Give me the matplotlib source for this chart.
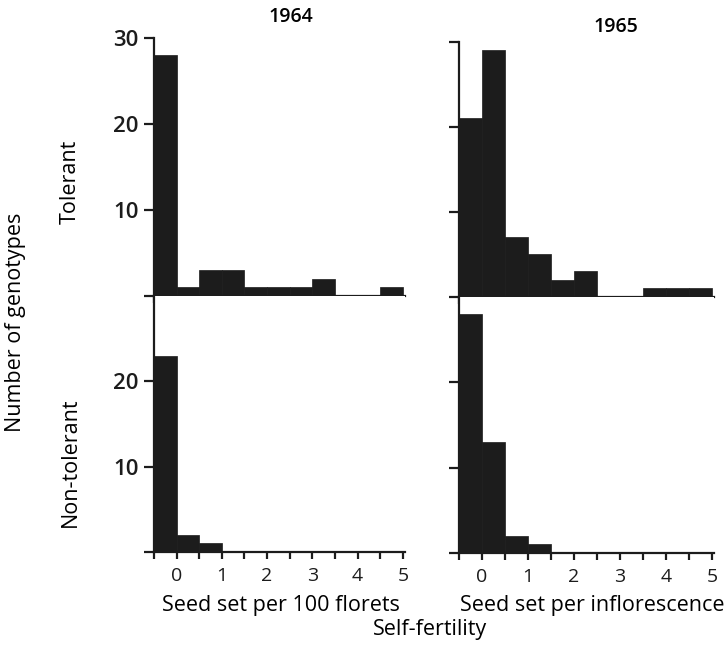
import numpy as np
import matplotlib
matplotlib.use("Agg")
import matplotlib.pyplot as plt

# ── data: counts of genotypes per 0.5-wide bin of self-fertility ──────────────
BIN_EDGES = np.arange(-0.5, 5.01, 0.5)          # -0.5, 0, 0.5, ... 5

tolerant_1964     = [28, 1, 3, 3, 1, 1, 1, 2, 0, 0, 1]
tolerant_1965     = [21, 29, 7, 5, 2, 3, 0, 0, 1, 1, 1]
nontolerant_1964  = [23, 2, 1, 0, 0, 0, 0, 0, 0, 0, 0]
nontolerant_1965  = [28, 13, 2, 1, 0, 0, 0, 0, 0, 0, 0]

YEARS      = ["1964", "1965"]
ROW_LABELS = ["Tolerant", "Non-tolerant"]
X_LABELS   = ["Seed set per 100 florets", "Seed set per inflorescence"]
X_TICKS    = [0, 1, 2, 3, 4, 5]

INK = "#1c1c1c"
plt.rcParams["font.family"] = ["Open Sans", "DejaVu Sans"]

W, H = 727, 648
fig = plt.figure(figsize=(W / 100, H / 100), dpi=100)
fig.patch.set_facecolor("white")


def px(x, y):
    """pixel position (from top-left) -> figure fraction"""
    return x / W, 1 - y / H


# axes rectangles [left, bottom, width, height] in figure fractions
positions = {
    (0, 0): [0.2118, 0.5432, 0.3455, 0.3981],
    (0, 1): [0.6314, 0.5417, 0.3510, 0.3935],
    (1, 0): [0.2118, 0.1481, 0.3455, 0.3951],
    (1, 1): [0.6314, 0.1466, 0.3510, 0.3951],
}
counts = {
    (0, 0): tolerant_1964,
    (0, 1): tolerant_1965,
    (1, 0): nontolerant_1964,
    (1, 1): nontolerant_1965,
}


def style_axis(ax, row, col):
    for side in ("top", "right"):
        ax.spines[side].set_visible(False)
    for side in ("left", "bottom"):
        ax.spines[side].set_linewidth(1.6)
        ax.spines[side].set_color(INK)
    ax.set_xlim(-0.5, 5.05)
    ax.set_ylim(0, 30)
    ax.set_xticks(BIN_EDGES)
    ax.tick_params(axis="x", direction="out", length=5, width=1.6, colors=INK,
                   labelsize=14, pad=6)
    ax.tick_params(axis="y", direction="out", length=7, width=1.6, colors=INK,
                   labelsize=16, pad=4)
    if row == 1:
        ax.set_xticklabels([f"{v:g}" if v in X_TICKS else "" for v in BIN_EDGES])
    else:
        ax.set_xticklabels([])
    if row == 0:
        ax.set_yticks([0, 10, 20, 30])
        labels = ["", "10", "20", "30"]
    else:
        ax.set_yticks([0, 10, 20])
        labels = ["", "10", "20"]
    if col == 0:
        ax.set_yticklabels(labels, fontweight="semibold")
    else:
        ax.set_yticklabels([])


for (row, col), rect in positions.items():
    ax = fig.add_axes(rect)
    ax.bar(BIN_EDGES[:-1], counts[(row, col)], width=0.5, align="edge",
           color=INK, edgecolor=INK, linewidth=0.5)
    style_axis(ax, row, col)

# column titles
fig.text(*px(291, 17), YEARS[0], ha="center", va="center",
         fontsize=14, fontweight="semibold")
fig.text(*px(616, 27), YEARS[1], ha="center", va="center",
         fontsize=14, fontweight="semibold")

# x labels under each column and the shared one
fig.text(*px(281, 605), X_LABELS[0], ha="center", va="center", fontsize=15.5)
fig.text(*px(592, 605), X_LABELS[1], ha="center", va="center", fontsize=15.5)
fig.text(*px(430, 630), "Self-fertility", ha="center", va="center",
         fontsize=15.5)

# row labels and the shared y label
fig.text(*px(70, 182), ROW_LABELS[0], rotation=90, ha="center", va="center",
         fontsize=15.5)
fig.text(*px(70, 462), ROW_LABELS[1], rotation=90, ha="center", va="center",
         fontsize=15.5)
fig.text(*px(16, 322), "Number of genotypes", rotation=90, ha="center",
         va="center", fontsize=15.5)

fig.savefig("out.png", dpi=100, facecolor="white")
